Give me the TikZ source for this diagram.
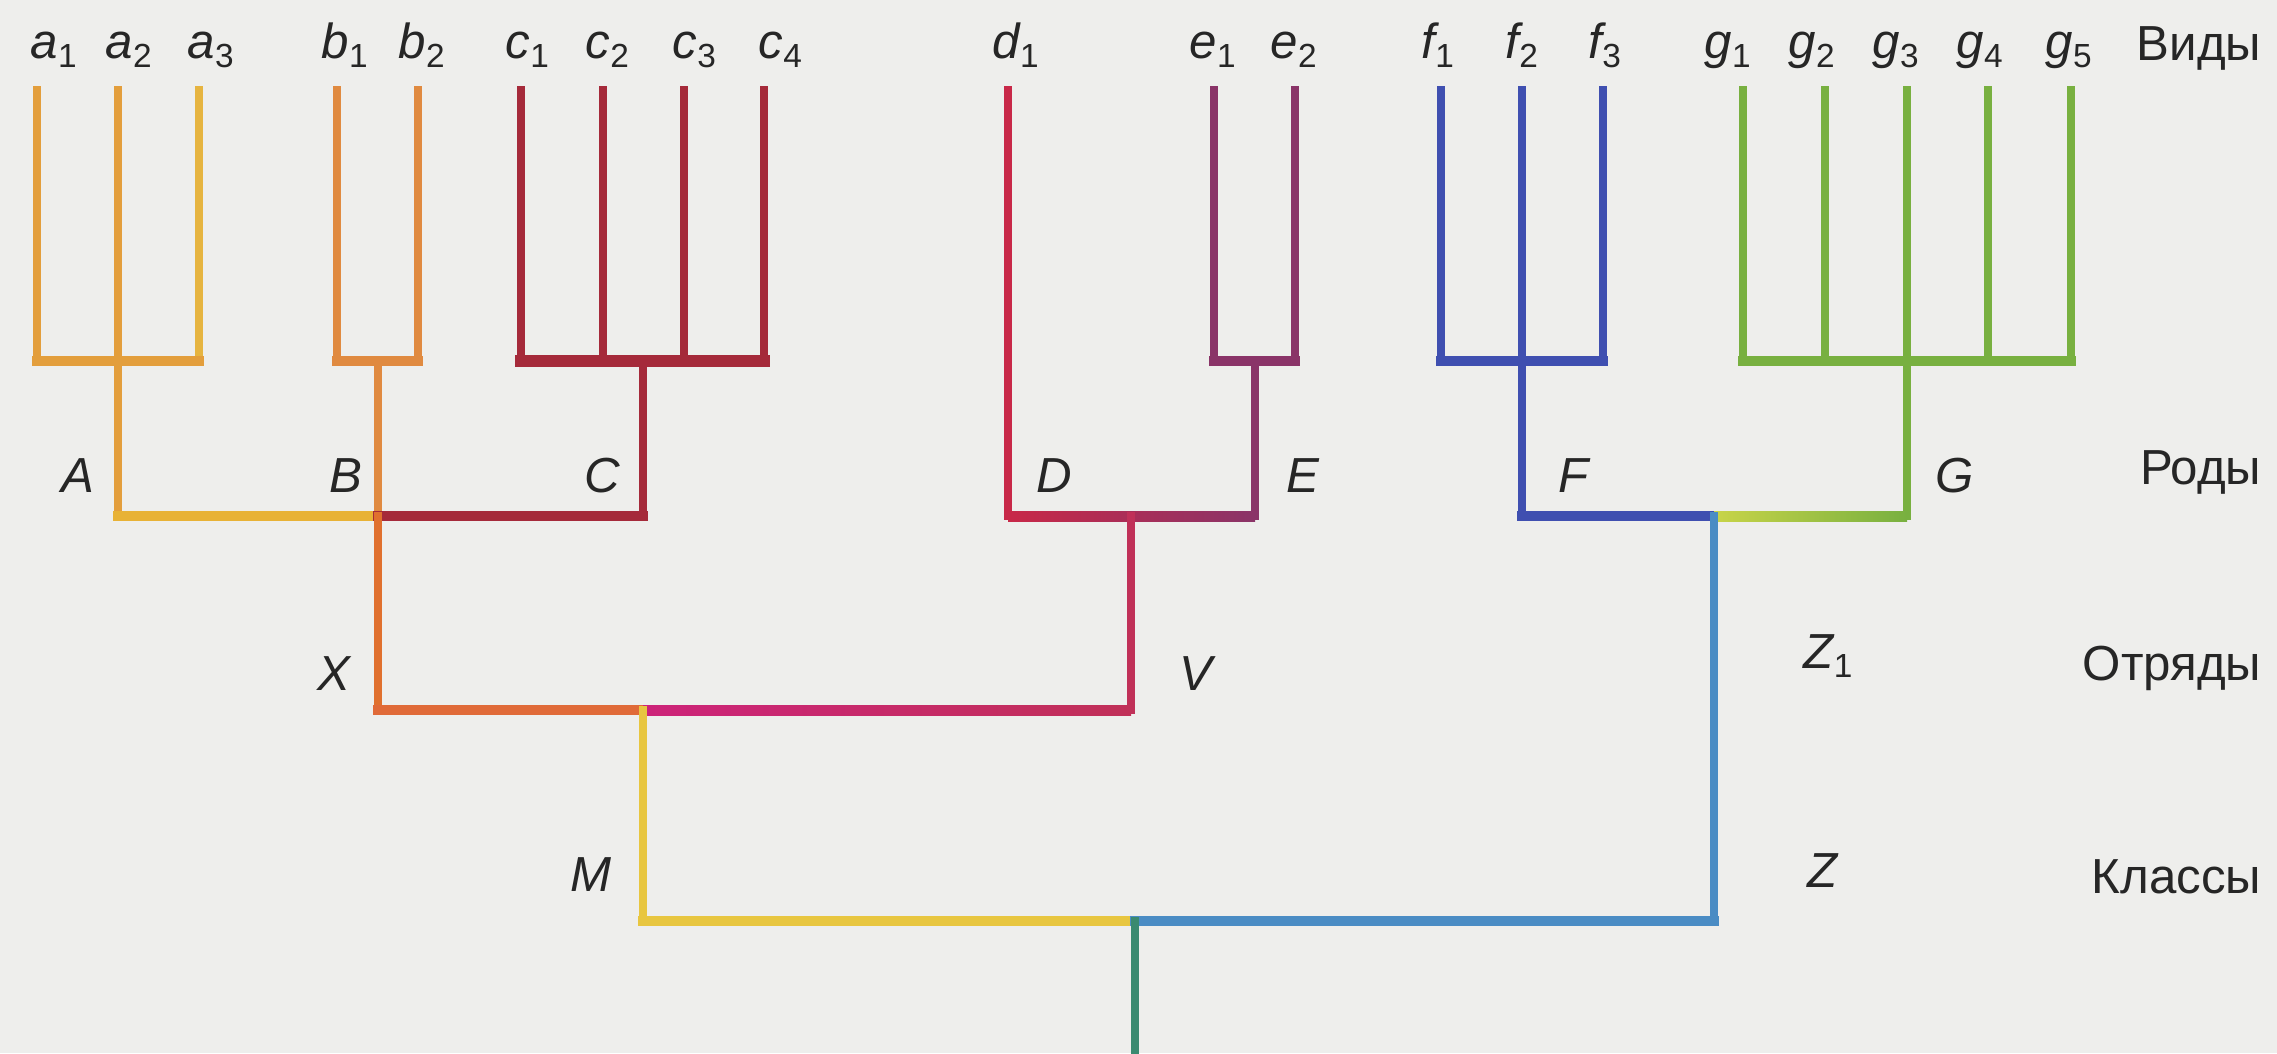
\documentclass[tikz,border=0pt]{standalone}
\usepackage{fontspec}
\setmainfont{Liberation Sans}
\definecolor{bgcol}{HTML}{EEEEEC}
\definecolor{txt}{HTML}{262626}
\definecolor{cola}{HTML}{E39E3C}
\definecolor{cola3}{HTML}{E6B440}
\definecolor{colgold}{HTML}{E8B236}
\definecolor{colb}{HTML}{E08A40}
\definecolor{colB}{HTML}{E0702E}
\definecolor{colc}{HTML}{A52A3A}
\definecolor{cold}{HTML}{C82848}
\definecolor{cole}{HTML}{8A3468}
\definecolor{colv}{HTML}{C03058}
\definecolor{colxl}{HTML}{E06A38}
\definecolor{colxr}{HTML}{C02C58}
\definecolor{colm}{HTML}{E8C640}
\definecolor{colf}{HTML}{3F4FB0}
\definecolor{colg}{HTML}{78B040}
\definecolor{colyg}{HTML}{C8D448}
\definecolor{colz}{HTML}{4A8CC4}
\definecolor{colr}{HTML}{3A8A70}
\newcommand{\sbs}[1]{\raisebox{-0.09cm}{\fontsize{9.5}{10}\selectfont\upshape #1}}
\begin{document}
\begin{tikzpicture}[x=0.01cm,y=-0.01cm,line join=miter,line cap=rect,
  vline/.style={line width=0.085cm},
  hline/.style={line width=0.1cm},
  lab/.style={anchor=base west,inner sep=0pt,text=txt,font=\fontsize{14}{16}\selectfont\itshape},
  rank/.style={anchor=base east,inner sep=0pt,text=txt,font=\fontsize{14}{16}\selectfont}]
\useasboundingbox[fill=bgcol] (0,0) rectangle (2277,1053);
% species coordinates
\foreach \n/\x in {a1/37,a2/118,a3/199,b1/337,b2/418,c1/521,c2/603,c3/684,c4/764,
  d1/1008,e1/1214,e2/1295,f1/1441,f2/1522,f3/1603,g1/1743,g2/1825,g3/1907,g4/1988,g5/2071}{
  \coordinate (\n t) at (\x,90);
  \coordinate (\n b) at (\x,361);
}
\coordinate (Ag) at (118,516);
\coordinate (Bs) at (378,361);
\coordinate (Bg) at (378,516);
\coordinate (Cs) at (643,361);
\coordinate (Cg) at (643,516);
\coordinate (Dg) at (1008,516);
\coordinate (Es) at (1255,361);
\coordinate (Eg) at (1255,516);
\coordinate (Fg) at (1522,516);
\coordinate (Gg) at (1907,516);
\coordinate (Vg) at (1131,516);
\coordinate (Xo) at (378,710);
\coordinate (Mo) at (643,710);
\coordinate (Vo) at (1131,710);
\coordinate (Mc) at (643,921);
\coordinate (Rc) at (1135,921);
\coordinate (Rb) at (1135,1053);
\coordinate (Zg) at (1714,516);
\coordinate (Zc) at (1714,921);
% a
\draw[vline,cola] (a1t) -- (a1b);
\draw[vline,cola] (a2t) -- (Ag);
\draw[vline,cola3] (a3t) -- (a3b);
\draw[hline,cola] (a1b) -- (a3b);
% b
\draw[vline,colb] (b1t) -- (b1b);
\draw[vline,colb] (b2t) -- (b2b);
\draw[hline,colb] (b1b) -- (b2b);
\draw[vline,colb] (Bs) -- (Bg);
% c
\foreach \n in {c1,c2,c3,c4}{\draw[vline,colc] (\n t) -- (\n b);}
\draw[line width=0.12cm,colc] (c1b) -- (c4b);
\draw[vline,colc] (Cs) -- (Cg);
% genus joins A-B-C
\draw[hline,colgold] (Ag) -- (Bg);
\draw[hline,colc] (Bg) -- (Cg);
\draw[vline,colB] (Bg) -- (Xo);
% d, e
\draw[vline,cold] (d1t) -- (Dg);
\draw[vline,cole] (e1t) -- (e1b);
\draw[vline,cole] (e2t) -- (e2b);
\draw[hline,cole] (e1b) -- (e2b);
\draw[vline,cole] (Es) -- (Eg);
\shade[left color=cold,right color=cole] ([yshift=0.05cm]Dg) rectangle ([yshift=-0.05cm]Eg);
\draw[vline,colv] (Vg) -- (Vo);
% order X-V
\draw[hline,colxl] (Xo) -- (Mo);
\shade[left color=colxr!80!magenta,right color=colv] ([yshift=0.05cm]Mo) rectangle ([yshift=-0.05cm]Vo);
% class M
\draw[vline,colm] (Mo) -- (Mc);
\draw[hline,colm] (Mc) -- (Rc);
% f, g
\draw[vline,colf] (f1t) -- (f1b);
\draw[vline,colf] (f2t) -- (Fg);
\draw[vline,colf] (f3t) -- (f3b);
\draw[hline,colf] (f1b) -- (f3b);
\foreach \n in {g1,g2,g3,g4,g5}{\draw[vline,colg] (\n t) -- (\n b);}
\draw[hline,colg] (g1b) -- (g5b);
\draw[vline,colg] (g3b) -- (Gg);
\draw[hline,colf] (Fg) -- (Zg);
\shade[left color=colyg,right color=colg] ([yshift=0.05cm]Zg) rectangle ([yshift=-0.05cm]Gg);
% Z
\draw[vline,colz] (Zg) -- (Zc);
\draw[hline,colz] (Rc) -- (Zc);
\draw[vline,colr] (Rc) -- (Rb);
% species labels
\node[lab] (la1) at (30,58) {a\sbs{1}};
\node[lab] (la2) at (105,58) {a\sbs{2}};
\node[lab] (la3) at (187,58) {a\sbs{3}};
\node[lab] (lb1) at (321,58) {b\sbs{1}};
\node[lab] (lb2) at (398,58) {b\sbs{2}};
\node[lab] (lc1) at (505,58) {c\sbs{1}};
\node[lab] (lc2) at (585,58) {c\sbs{2}};
\node[lab] (lc3) at (672,58) {c\sbs{3}};
\node[lab] (lc4) at (758,58) {c\sbs{4}};
\node[lab] (ld1) at (992,58) {d\sbs{1}};
\node[lab] (le1) at (1189,58) {e\sbs{1}};
\node[lab] (le2) at (1270,58) {e\sbs{2}};
\node[lab] (lf1) at (1421,58) {f\sbs{1}};
\node[lab] (lf2) at (1505,58) {f\sbs{2}};
\node[lab] (lf3) at (1588,58) {f\sbs{3}};
\node[lab] (lg1) at (1704,58) {g\sbs{1}};
\node[lab] (lg2) at (1788,58) {g\sbs{2}};
\node[lab] (lg3) at (1872,58) {g\sbs{3}};
\node[lab] (lg4) at (1956,58) {g\sbs{4}};
\node[lab] (lg5) at (2045,58) {g\sbs{5}};
% genus labels
\node[lab] (lA) at (61,492) {A};
\node[lab] (lB) at (329,492) {B};
\node[lab] (lC) at (584,492) {C};
\node[lab] (lD) at (1036,492) {D};
\node[lab] (lE) at (1286,492) {E};
\node[lab] (lF) at (1558,492) {F};
\node[lab] (lG) at (1935,492) {G};
% order labels
\node[lab] (lX) at (317,690) {X};
\node[lab] (lV) at (1179,690) {V};
\node[lab] (lZ1) at (1803,668) {Z\sbs{1}};
% class labels
\node[lab] (lM) at (570,891) {M};
\node[lab] (lZ) at (1807,887) {Z};
% rank labels
\node[rank] (rv) at (2262,60) {Виды};
\node[rank] (rr) at (2262,484) {Роды};
\node[rank] (ro) at (2262,680) {Отряды};
\node[rank] (rk) at (2262,893) {Классы};
\end{tikzpicture}
\end{document}
